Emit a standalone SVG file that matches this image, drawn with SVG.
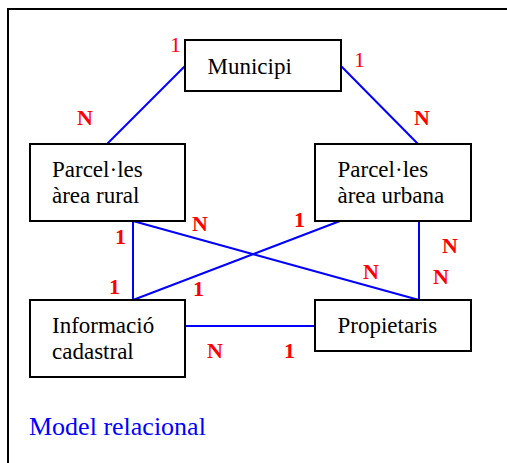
<svg xmlns="http://www.w3.org/2000/svg" width="507" height="463" viewBox="0 0 507 463">
<style>
.box{fill:#fff;stroke:#000;stroke-width:2}
.t{font-family:"Liberation Serif","Times New Roman",serif;font-size:23px;fill:#000}
.c{stroke:#0000ff;stroke-width:2;fill:none}
.r{font-family:"Liberation Serif","Times New Roman",serif;font-size:22px;fill:#ff0000}
.rb{font-family:"Liberation Serif","Times New Roman",serif;font-size:22px;font-weight:bold;fill:#ff0000}
</style>
<rect width="507" height="463" fill="#fff"/>
<path d="M8,463 V9 H507" fill="none" stroke="#000" stroke-width="2"/>
<g id="connectors">
<line class="c" x1="185" y1="66" x2="107" y2="144"/>
<line class="c" x1="341" y1="66" x2="418" y2="144"/>
<line class="c" x1="133" y1="221" x2="133" y2="300"/>
<line class="c" x1="133" y1="221" x2="419" y2="300"/>
<line class="c" x1="340" y1="221" x2="133" y2="300"/>
<line class="c" x1="419" y1="221" x2="419" y2="300"/>
<line class="c" x1="185" y1="326" x2="315" y2="326"/>
</g>
<g id="municipi">
<rect class="box" x="185" y="40" width="156" height="51"/>
<text class="t" x="207.5" y="74">Municipi</text>
</g>
<g id="rural">
<rect class="box" x="30" y="144" width="155" height="77"/>
<text class="t" x="52" y="177">Parcel·les</text>
<text class="t" x="52" y="203">àrea rural</text>
</g>
<g id="urbana">
<rect class="box" x="315" y="144" width="156" height="77"/>
<text class="t" x="337.5" y="177">Parcel·les</text>
<text class="t" x="337.5" y="203">àrea urbana</text>
</g>
<g id="informacio">
<rect class="box" x="30" y="300" width="155" height="77"/>
<text class="t" x="52" y="333">Informació</text>
<text class="t" x="52" y="359">cadastral</text>
</g>
<g id="propietaris">
<rect class="box" x="315" y="300" width="156" height="51"/>
<text class="t" x="337.5" y="333">Propietaris</text>
</g>
<g id="labels">
<text class="r" x="170" y="52">1</text>
<text class="r" x="354" y="67">1</text>
<text class="rb" x="77" y="125">N</text>
<text class="rb" x="414" y="125">N</text>
<text class="rb" x="192" y="231">N</text>
<text class="rb" x="115" y="244">1</text>
<text class="rb" x="294" y="227">1</text>
<text class="rb" x="442" y="253">N</text>
<text class="rb" x="363" y="279">N</text>
<text class="rb" x="433" y="284">N</text>
<text class="rb" x="109" y="294">1</text>
<text class="rb" x="193" y="296">1</text>
<text class="rb" x="207" y="358">N</text>
<text class="rb" x="284" y="358">1</text>
</g>
<text x="29" y="435" font-family="Liberation Serif,'Times New Roman',serif" font-size="26px" fill="#0000ff">Model relacional</text>
</svg>
